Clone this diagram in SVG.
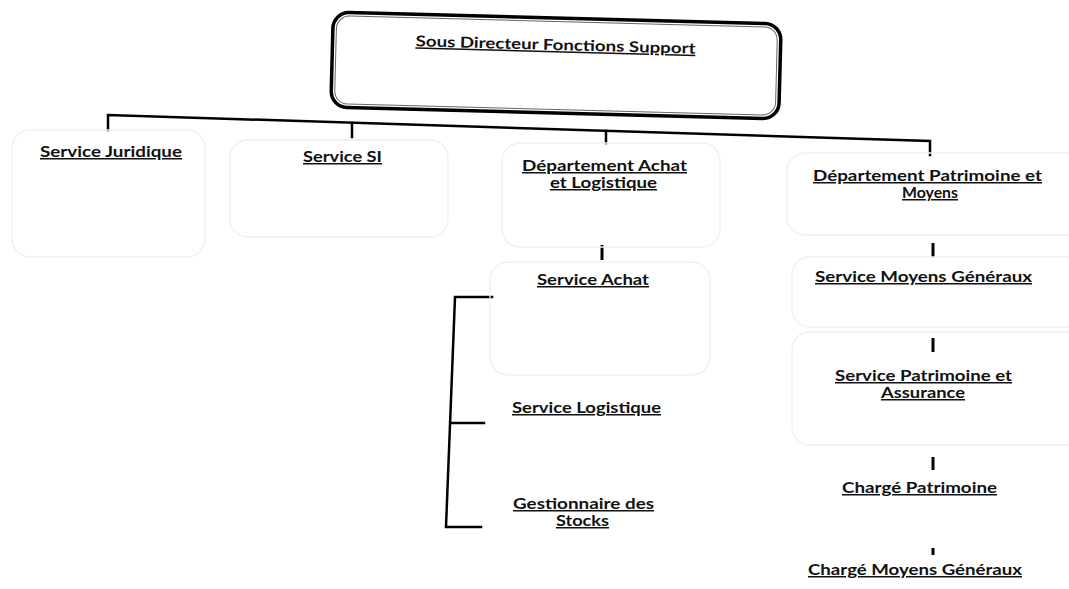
<svg xmlns="http://www.w3.org/2000/svg" width="1069" height="589" viewBox="0 0 1069 589">
<defs>
<style>
.t{font-family:Lato,"Open Sans","Liberation Sans",sans-serif;font-weight:700;font-size:15px;fill:#111;text-anchor:middle;text-decoration:underline}
.faint{fill:none;stroke:#f0f0f0;stroke-width:1.3}
.conn{fill:none;stroke:#000;stroke-width:2.5;stroke-linecap:square}
.tick{stroke:#000;stroke-width:3}
</style>
</defs>
<rect width="1069" height="589" fill="#fff"/>
<g id="top" transform="rotate(1.5 556 65.5)">
<rect x="332" y="18" width="448" height="95" rx="16" fill="#fff" stroke="#000" stroke-width="3.5"/>
<rect x="335.5" y="21.5" width="441" height="88" rx="13" fill="none" stroke="#666" stroke-width="1"/>
<text class="t" x="555" y="50" textLength="280" lengthAdjust="spacingAndGlyphs">Sous Directeur Fonctions Support</text>
</g>
<g id="connectors">
<polyline class="conn" points="108,130 108,115 930,141 930,155"/>
<line class="conn" x1="352" y1="123" x2="352" y2="137"/>
<line class="conn" x1="606" y1="131" x2="606" y2="143"/>
<polyline class="conn" points="492,297 455,297 446,527 481,527"/>
<line class="conn" x1="451" y1="423" x2="484" y2="423"/>
<line class="tick" x1="602" y1="245" x2="602" y2="260"/>
<line class="tick" x1="933" y1="243" x2="933" y2="257"/>
<line class="tick" x1="933" y1="338" x2="933" y2="352"/>
<line class="tick" x1="933" y1="457" x2="933" y2="470"/>
<line class="tick" x1="933" y1="548" x2="933" y2="555"/>
</g>
<g id="juridique">
<rect class="faint" x="12" y="130" width="193" height="127" rx="18"/>
<text class="t" x="111" y="157" textLength="142" lengthAdjust="spacingAndGlyphs">Service Juridique</text>
</g>
<g id="si">
<rect class="faint" x="230" y="140" width="218" height="97" rx="18"/>
<text class="t" x="342.5" y="162" textLength="79" lengthAdjust="spacingAndGlyphs">Service SI</text>
</g>
<g id="achat-logistique">
<rect class="faint" x="502" y="143" width="218" height="104" rx="18"/>
<text class="t" x="604.5" y="171" textLength="165" lengthAdjust="spacingAndGlyphs">Département Achat</text>
<text class="t" x="603.5" y="188" textLength="107" lengthAdjust="spacingAndGlyphs">et Logistique</text>
</g>
<g id="patrimoine-moyens">
<rect class="faint" x="787" y="153" width="300" height="82" rx="18"/>
<text class="t" x="927.5" y="181" textLength="229" lengthAdjust="spacingAndGlyphs">Département Patrimoine et</text>
<text class="t" x="930" y="198" textLength="56" lengthAdjust="spacingAndGlyphs">Moyens</text>
</g>
<g id="service-achat">
<rect class="faint" x="490" y="262" width="220" height="113" rx="18"/>
<text class="t" x="593" y="285" textLength="112" lengthAdjust="spacingAndGlyphs">Service Achat</text>
</g>
<g id="service-logistique">
<text class="t" x="586.5" y="413" textLength="149" lengthAdjust="spacingAndGlyphs">Service Logistique</text>
</g>
<g id="gestionnaire-stocks">
<text class="t" x="583.5" y="509" textLength="141" lengthAdjust="spacingAndGlyphs">Gestionnaire des</text>
<text class="t" x="582.5" y="526" textLength="53" lengthAdjust="spacingAndGlyphs">Stocks</text>
</g>
<g id="moyens-generaux">
<rect class="faint" x="792" y="257" width="300" height="70" rx="18"/>
<text class="t" x="923.5" y="282" textLength="217" lengthAdjust="spacingAndGlyphs">Service Moyens Généraux</text>
</g>
<g id="patrimoine-assurance">
<rect class="faint" x="792" y="332" width="300" height="113" rx="18"/>
<text class="t" x="923.5" y="381" textLength="177" lengthAdjust="spacingAndGlyphs">Service Patrimoine et</text>
<text class="t" x="923" y="398" textLength="84" lengthAdjust="spacingAndGlyphs">Assurance</text>
</g>
<g id="charge-patrimoine">
<text class="t" x="919.5" y="493" textLength="155" lengthAdjust="spacingAndGlyphs">Chargé Patrimoine</text>
</g>
<g id="charge-moyens">
<text class="t" x="915" y="575" textLength="214" lengthAdjust="spacingAndGlyphs">Chargé Moyens Généraux</text>
</g>
</svg>
